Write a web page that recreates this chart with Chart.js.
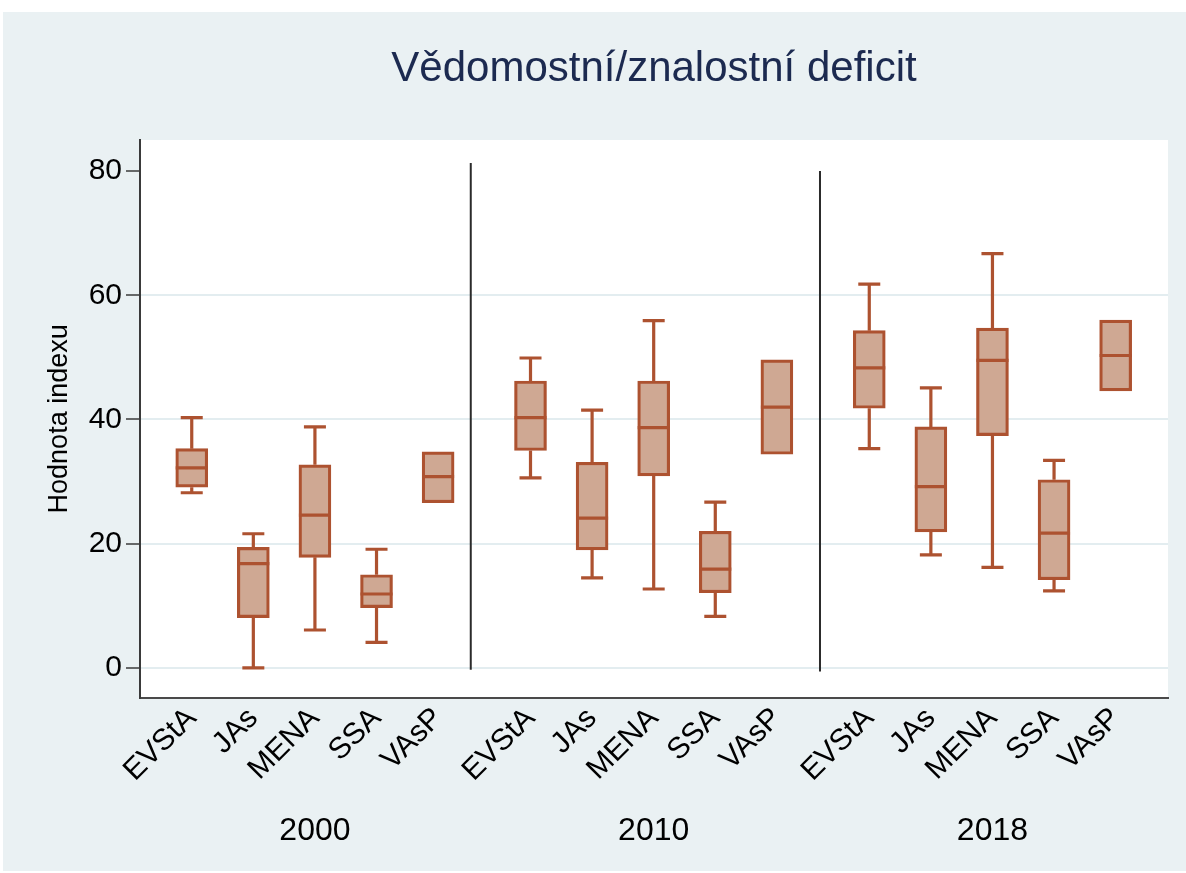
<!DOCTYPE html>
<html>
<head>
<meta charset="utf-8">
<script src="https://cdn.jsdelivr.net/npm/chart.js@4.4.1/dist/chart.umd.min.js"></script>
<style>
  html, body { margin: 0; padding: 0; background: #ffffff; }
  #wrap { width: 1186px; height: 873px; }
</style>
</head>
<body>
<div id="wrap"><canvas id="box-chart"></canvas></div>
<script>
// Categories and groups
const categories = ['EVStA', 'JAs', 'MENA', 'SSA', 'VAsP']
const years = ['2000', '2010', '2018']

// x position of every box (five per year, wider gap between years)
const xPos = [0, 1, 2, 3, 4, 5.5, 6.5, 7.5, 8.5, 9.5, 11, 12, 13, 14, 15]
const yearPos = [2, 7.5, 13]

// Box plot values (2000 | 2010 | 2018)
const whiskerLow  = [28.2, 0.0, 6.1, 4.1, 26.6,   30.6, 14.5, 12.7, 8.3, 34.4,   35.3, 18.2, 16.2, 12.4, 44.6]
const q1          = [29.1, 8.1, 17.8, 9.7, 26.6,  35.0, 19.0, 30.9, 12.1, 34.4,  41.8, 21.9, 37.4, 14.2, 44.6]
const median      = [32.2, 16.8, 24.6, 11.9, 30.8, 40.3, 24.1, 38.7, 15.9, 42.0, 48.3, 29.2, 49.5, 21.7, 50.3]
const q3          = [35.3, 19.4, 32.7, 15.0, 34.8, 46.2, 33.1, 46.2, 22.0, 49.6, 54.3, 38.8, 54.7, 30.3, 56.0]
const whiskerHigh = [40.3, 21.6, 38.8, 19.1, 34.8, 49.9, 41.5, 55.9, 26.7, 49.6, 61.8, 45.1, 66.7, 33.4, 56.0]

// y axis ticks
const yTicks = [0, 20, 40, 60, 80]

// separators between the year panels
const sepX = [4.53, 10.2]
const sepTop = [81.3, 80]
const sepBottom = [-0.3, -0.6]

const fillColor = '#cfa893'
const lineColor = '#ad5230'
const bgColor = '#eaf1f3'
const font = 'Liberation Sans, Arial, sans-serif'

// background: outer panel and white plot region
const backgroundPlugin = {
  id: 'background',
  beforeDraw(chart) {
    const { ctx, chartArea } = chart
    ctx.save()
    ctx.fillStyle = '#ffffff'
    ctx.fillRect(0, 0, chart.width, chart.height)
    ctx.fillStyle = bgColor
    ctx.fillRect(3, 12, chart.width - 3, chart.height - 14)
    ctx.fillStyle = '#ffffff'
    ctx.fillRect(chartArea.left, chartArea.top, chartArea.right - chartArea.left, chartArea.bottom - chartArea.top)
    ctx.restore()
  }
}

// whiskers, medians and year separators
const boxPlugin = {
  id: 'boxExtras',
  afterDatasetsDraw(chart) {
    const { ctx } = chart
    const xs = chart.scales.x
    const ys = chart.scales.y
    ctx.save()
    ctx.strokeStyle = '#2b2b2b'
    ctx.lineWidth = 2
    sepX.forEach((v, i) => {
      const px = xs.getPixelForValue(v)
      ctx.beginPath()
      ctx.moveTo(px, ys.getPixelForValue(sepTop[i]))
      ctx.lineTo(px, ys.getPixelForValue(sepBottom[i]))
      ctx.stroke()
    })
    ctx.strokeStyle = lineColor
    ctx.lineWidth = 3.2
    ctx.lineCap = 'butt'
    const cap = 11
    const half = 16
    xPos.forEach((v, i) => {
      const px = xs.getPixelForValue(v)
      if (whiskerHigh[i] > q3[i]) {
        const top = ys.getPixelForValue(whiskerHigh[i])
        ctx.beginPath()
        ctx.moveTo(px, ys.getPixelForValue(q3[i]))
        ctx.lineTo(px, top)
        ctx.moveTo(px - cap, top)
        ctx.lineTo(px + cap, top)
        ctx.stroke()
      }
      if (whiskerLow[i] < q1[i]) {
        const bot = ys.getPixelForValue(whiskerLow[i])
        ctx.beginPath()
        ctx.moveTo(px, ys.getPixelForValue(q1[i]))
        ctx.lineTo(px, bot)
        ctx.moveTo(px - cap, bot)
        ctx.lineTo(px + cap, bot)
        ctx.stroke()
      }
      const my = ys.getPixelForValue(median[i])
      ctx.beginPath()
      ctx.moveTo(px - half, my)
      ctx.lineTo(px + half, my)
      ctx.stroke()
    })
    ctx.restore()
  }
}

const chartCanvas = document.querySelector('#box-chart')

const boxChart = new Chart(chartCanvas, {
  type: 'bar',
  data: {
    datasets: [{
      data: xPos.map((x, i) => ({ x: x, y: [q1[i], q3[i]] })),
      backgroundColor: fillColor,
      borderColor: lineColor,
      borderWidth: 3.2,
      borderSkipped: false,
      barThickness: 32
    }]
  },
  options: {
    responsive: true,
    maintainAspectRatio: false,
    animation: false,
    layout: { padding: { top: 12, left: 3, right: 18, bottom: 0 } },
    plugins: {
      legend: { display: false },
      tooltip: { enabled: false },
      title: {
        display: true,
        fullSize: false,
        text: 'Vědomostní/znalostní deficit',
        color: '#1c2a50',
        font: { family: font, size: 42, weight: 'normal' },
        padding: { top: 32, bottom: 45.6 }
      }
    },
    scales: {
      x: {
        type: 'linear',
        offset: false,
        min: -0.84,
        max: 15.85,
        weight: 0,
        afterBuildTicks: (axis) => { axis.ticks = xPos.map(v => ({ value: v })) },
        afterFit: (axis) => { axis.height = 114 },
        grid: { display: false, drawTicks: false, offset: false },
        border: { display: true, color: '#4a4a4a', width: 2 },
        ticks: {
          autoSkip: false,
          minRotation: 45,
          maxRotation: 45,
          padding: 3,
          color: '#000000',
          font: { family: font, size: 30 },
          callback: function (value) {
            const i = xPos.indexOf(value)
            return i >= 0 ? categories[i % 5] : ''
          }
        }
      },
      x2: {
        type: 'linear',
        position: 'bottom',
        offset: false,
        min: -0.84,
        max: 15.85,
        weight: 1,
        afterBuildTicks: (axis) => { axis.ticks = yearPos.map(v => ({ value: v })) },
        afterFit: (axis) => { axis.height = 61.3 },
        grid: { display: false, drawTicks: false, offset: false },
        border: { display: false },
        ticks: {
          autoSkip: false,
          minRotation: 0,
          maxRotation: 0,
          padding: 0,
          color: '#000000',
          font: { family: font, size: 32 },
          callback: function (value) {
            const i = yearPos.indexOf(value)
            return i >= 0 ? years[i] : ''
          }
        }
      },
      y: {
        min: -4.8,
        max: 85,
        afterBuildTicks: (axis) => { axis.ticks = yTicks.map(v => ({ value: v })) },
        afterFit: (axis) => { axis.width = 137 },
        grid: {
          color: (ctx) => ctx.tick && ctx.tick.value === 80 ? 'rgba(0,0,0,0)' : '#e3edf0',
          lineWidth: 2,
          tickColor: '#3a3a3a',
          tickLength: 14,
          tickWidth: 1.5
        },
        border: { display: true, color: '#3a3a3a', width: 2 },
        title: {
          display: true,
          text: 'Hodnota indexu',
          color: '#000000',
          font: { family: font, size: 27 },
          padding: { top: 40, bottom: 0 }
        },
        ticks: {
          padding: 4,
          color: '#000000',
          font: { family: font, size: 30 }
        }
      }
    }
  },
  plugins: [backgroundPlugin, boxPlugin]
})
</script>
</body>
</html>
